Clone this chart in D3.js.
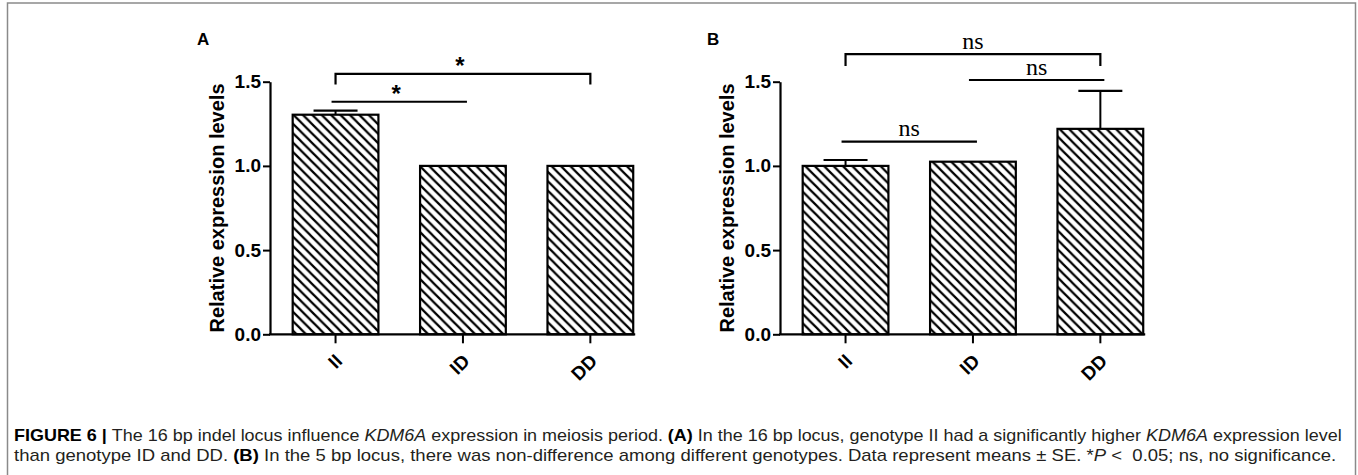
<!DOCTYPE html>
<html>
<head>
<meta charset="utf-8">
<script src="https://cdn.jsdelivr.net/npm/d3@7"></script>
<style>
  html, body { margin: 0; padding: 0; background: #fff; }
  svg { display: block; }
</style>
</head>
<body>
<svg id="chart" width="1358" height="475"></svg>
<script>
// ---------- data ----------
const categories = ["II", "ID", "DD"];
const yTicks = [0, 0.5, 1.0, 1.5];

const valuesA = [1.304, 1.0, 1.0];
const errorsA = [0.024, 0, 0];
const valuesB = [1.0, 1.025, 1.22];
const errorsB = [0.035, 0, 0.225];

// significance annotations: from, to, y (data units), yEnd (bracket foot, null = flat line), label
const annotFromA = ["II", "II"];
const annotToA   = ["DD", "ID"];
const annotYA    = [1.547, 1.381];
const annotEndA  = [1.484, null];
const annotLblA  = ["*", "*"];

const annotFromB = ["II", "ID", "II"];
const annotToB   = ["DD", "DD", "ID"];
const annotYB    = [1.664, 1.51, 1.144];
const annotEndB  = [1.593, null, null];
const annotLblB  = ["ns", "ns", "ns"];

const panelLetters = ["A", "B"];
const yTitle = "Relative expression levels";

// ---------- drawing ----------
const svg = d3.select("#chart");

// frame
svg.append("rect")
  .attr("x", 7.5).attr("y", 3)
  .attr("width", 1348).attr("height", 500)
  .attr("fill", "none").attr("stroke", "#8a8a8a").attr("stroke-width", 1.5);

// hatch pattern
const defs = svg.append("defs");
const ps = 9.4;
const pat = defs.append("pattern")
  .attr("id", "hatch").attr("patternUnits", "userSpaceOnUse")
  .attr("width", ps).attr("height", ps);
pat.append("rect").attr("width", ps).attr("height", ps).attr("fill", "#fff");
pat.append("path")
  .attr("d", `M${-ps/2},${ps/2} L${ps/2},${ps*1.5} M0,0 L${ps},${ps} M${ps/2},${-ps/2} L${ps*1.5},${ps/2}`)
  .attr("stroke", "#000").attr("stroke-width", 2.2);

const y = d3.scaleLinear().domain([0, 1.5]).range([334.3, 81.7]);

function drawPanel(x0, letter, values, errors, aFrom, aTo, aY, aEnd, aLbl, serifLabels) {
  const g = svg.append("g");
  const x = d3.scaleBand().domain(categories)
    .range([x0, x0 + 385.9]).paddingInner(0.327).paddingOuter(0.178);
  const bw = x.bandwidth();
  const cx = c => x(c) + bw / 2;

  // panel letter
  g.append("text").attr("x", x0 - 73).attr("y", 45)
    .attr("font-family", "Liberation Sans, Arial, sans-serif")
    .attr("font-weight", "bold").attr("font-size", 17).text(letter);

  // bars
  g.selectAll(".bar").data(categories).join("rect")
    .attr("x", d => x(d)).attr("y", (d, i) => y(values[i]))
    .attr("width", bw).attr("height", (d, i) => y(0) - y(values[i]))
    .attr("fill", "url(#hatch)").attr("stroke", "#000").attr("stroke-width", 2.2);

  // error bars (upper only)
  categories.forEach((c, i) => {
    if (errors[i] > 0) {
      g.append("line").attr("x1", cx(c)).attr("x2", cx(c))
        .attr("y1", y(values[i])).attr("y2", y(values[i] + errors[i]))
        .attr("stroke", "#000").attr("stroke-width", 2);
      g.append("line").attr("x1", cx(c) - 22).attr("x2", cx(c) + 22)
        .attr("y1", y(values[i] + errors[i])).attr("y2", y(values[i] + errors[i]))
        .attr("stroke", "#000").attr("stroke-width", 2.2);
    }
  });

  // y axis
  const ya = g.append("g").attr("transform", `translate(${x0},0)`)
    .call(d3.axisLeft(y).tickValues(yTicks).tickFormat(d3.format(".1f"))
      .tickSize(7).tickSizeOuter(0).tickPadding(2));
  ya.select(".domain").attr("stroke-width", 2.2);
  ya.selectAll(".tick line").attr("stroke-width", 2);
  ya.selectAll(".tick text")
    .attr("font-family", "Liberation Sans, Arial, sans-serif")
    .attr("font-weight", "bold").attr("font-size", 19).attr("fill", "#000");

  // x axis
  const lastEnd = x(categories[categories.length - 1]) + bw + 2;
  const xa = g.append("g").attr("transform", `translate(0,${y(0)})`)
    .call(d3.axisBottom(x).tickSize(9).tickSizeOuter(0));
  xa.select(".domain").attr("d", `M${x0 - 1},0H${lastEnd}`).attr("stroke-width", 2.2);
  xa.selectAll(".tick line").attr("stroke-width", 2);
  xa.selectAll(".tick text")
    .attr("font-family", "Liberation Sans, Arial, sans-serif")
    .attr("font-weight", "bold").attr("font-size", 19).attr("fill", "#000")
    .attr("text-anchor", "end").attr("x", 0).attr("y", 0).attr("dy", 0)
    .attr("transform", "translate(8,28) rotate(-45)");

  // y title
  g.append("text")
    .attr("transform", `translate(${x0 - 46},${(y(0) + y(1.5)) / 2}) rotate(-90)`)
    .attr("text-anchor", "middle")
    .attr("font-family", "Liberation Sans, Arial, sans-serif")
    .attr("font-weight", "bold").attr("font-size", 20).text(yTitle);

  // annotations
  aFrom.forEach((f, i) => {
    const xa1 = cx(f), xa2 = cx(aTo[i]);
    const yy = y(aY[i]);
    let d;
    if (aEnd[i] !== null) {
      d = `M${xa1},${y(aEnd[i])}V${yy}H${xa2}V${y(aEnd[i])}`;
    } else {
      d = `M${xa1 - 4},${yy}H${xa2 + 4}`;
    }
    g.append("path").attr("d", d).attr("fill", "none")
      .attr("stroke", "#000").attr("stroke-width", 2.2);
    const t = g.append("text").attr("x", (xa1 + xa2) / 2 - (serifLabels ? 0 : 3)).attr("text-anchor", "middle")
      .text(aLbl[i]);
    if (serifLabels) {
      t.attr("y", yy - 5.5).attr("font-family", "Liberation Serif, Times New Roman, serif")
        .attr("font-size", 24);
    } else {
      t.attr("y", yy + 0.5).attr("font-family", "Liberation Sans, Arial, sans-serif")
        .attr("font-weight", "bold").attr("font-size", 24);
    }
  });
}

drawPanel(270, panelLetters[0], valuesA, errorsA, annotFromA, annotToA, annotYA, annotEndA, annotLblA, false);
drawPanel(780, panelLetters[1], valuesB, errorsB, annotFromB, annotToB, annotYB, annotEndB, annotLblB, true);

// ---------- caption ----------
const captionLines = [
  [["FIGURE 6 | ", "b"], ["The 16 bp indel locus influence ", ""], ["KDM6A", "i"],
   [" expression in meiosis period. ", ""], ["(A)", "b"],
   [" In the 16 bp locus, genotype II had a significantly higher ", ""], ["KDM6A", "i"],
   [" expression level", ""]],
  [["than genotype ID and DD. ", ""], ["(B)", "b"],
   [" In the 5 bp locus, there was non-difference among different genotypes. Data represent means \u00B1 SE. *", ""],
   ["P", "i"], [" <  0.05; ns, no significance.", ""]]
];
const capX = 14, capBase = [441, 461], capRight = [1343, 1337];
captionLines.forEach((parts, li) => {
  const t = svg.append("text")
    .attr("font-family", "Liberation Sans Narrow, Liberation Sans, Arial, sans-serif")
    .attr("font-size", 16).attr("fill", "#231f20")
    .attr("xml:space", "preserve").style("white-space", "pre");
  parts.forEach(([s, st]) => {
    const sp = t.append("tspan").text(s);
    if (st === "b") sp.attr("font-weight", "bold").attr("fill", "#000");
    if (st === "i") sp.attr("font-style", "italic");
  });
  const w = t.node().getComputedTextLength();
  const k = (capRight[li] - capX) / w;
  t.attr("transform", `translate(${capX},${capBase[li]}) scale(${k},1)`);
});
</script>
</body>
</html>
